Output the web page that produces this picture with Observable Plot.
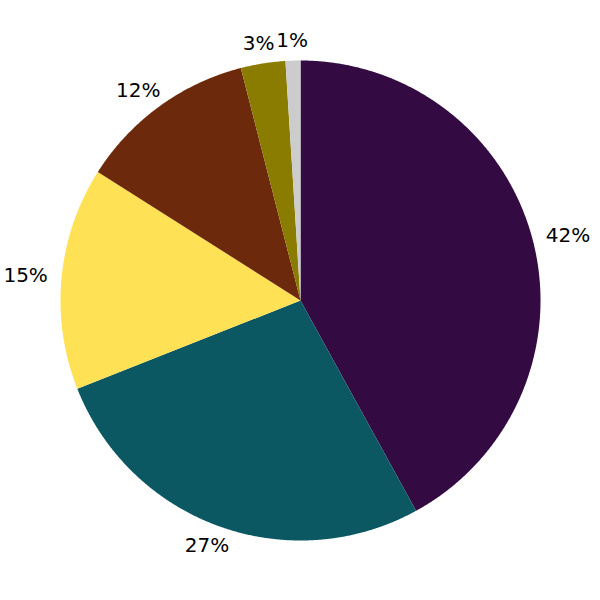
<!DOCTYPE html>
<html>
<head>
<meta charset="utf-8">
<script src="https://cdn.jsdelivr.net/npm/d3@7"></script>
<script src="https://cdn.jsdelivr.net/npm/@observablehq/plot@0.6"></script>
<style>
  html, body { margin: 0; padding: 0; background: #ffffff; }
  #chart { width: 600px; height: 600px; }
</style>
</head>
<body>
<div id="chart"></div>
<script>
const categories = ["A", "B", "C", "D", "E", "F"];
const values = [42, 27, 15, 12, 3, 1];
const labels = ["42%", "27%", "15%", "12%", "3%", "1%"];
const colors = ["#330a42", "#0c5862", "#ffe156", "#6d290b", "#8a7c00", "#cccccc"];

const total = d3.sum(values);
let acc = 0;
const slices = values.map((v, i) => {
  const a0 = acc / total * 2 * Math.PI;
  acc += v;
  const a1 = acc / total * 2 * Math.PI;
  return {cat: categories[i], value: v, label: labels[i], color: colors[i], a0, a1};
});

const pxPerUnit = 240;
const marks = [];
for (const s of slices) {
  const pts = [{x: 0, y: 0}];
  const n = Math.max(2, Math.ceil((s.a1 - s.a0) / (Math.PI / 720)));
  for (let k = 0; k <= n; k++) {
    const a = s.a0 + (s.a1 - s.a0) * k / n;
    pts.push({x: Math.sin(a), y: Math.cos(a)});
  }
  pts.push({x: 0, y: 0});
  marks.push(Plot.line(pts, {x: "x", y: "y", fill: s.color, stroke: "none", curve: "linear-closed"}));
}

const labelData = slices.map(s => {
  const m = (s.a0 + s.a1) / 2;
  const r0 = 253 / pxPerUnit;
  const hw = s.label.length * 7.7 / pxPerUnit;
  const hh = 7 / pxPerUnit;
  return {
    x: r0 * Math.sin(m) + hw * Math.sin(m),
    y: r0 * Math.cos(m) + hh * Math.cos(m),
    label: s.label
  };
});
marks.push(Plot.text(labelData, {
  x: "x", y: "y", text: "label",
  fontSize: 20, fontFamily: "DejaVu Sans", fill: "#000000",
  textAnchor: "middle", lineAnchor: "middle"
}));

const chart = Plot.plot({
  width: 600,
  height: 600,
  margin: 0,
  x: {domain: [-1.25, 1.25], axis: null},
  y: {domain: [-1.25, 1.25], axis: null},
  style: {background: "#ffffff", overflow: "visible"},
  marks
});
document.getElementById("chart").appendChild(chart);
</script>
</body>
</html>
